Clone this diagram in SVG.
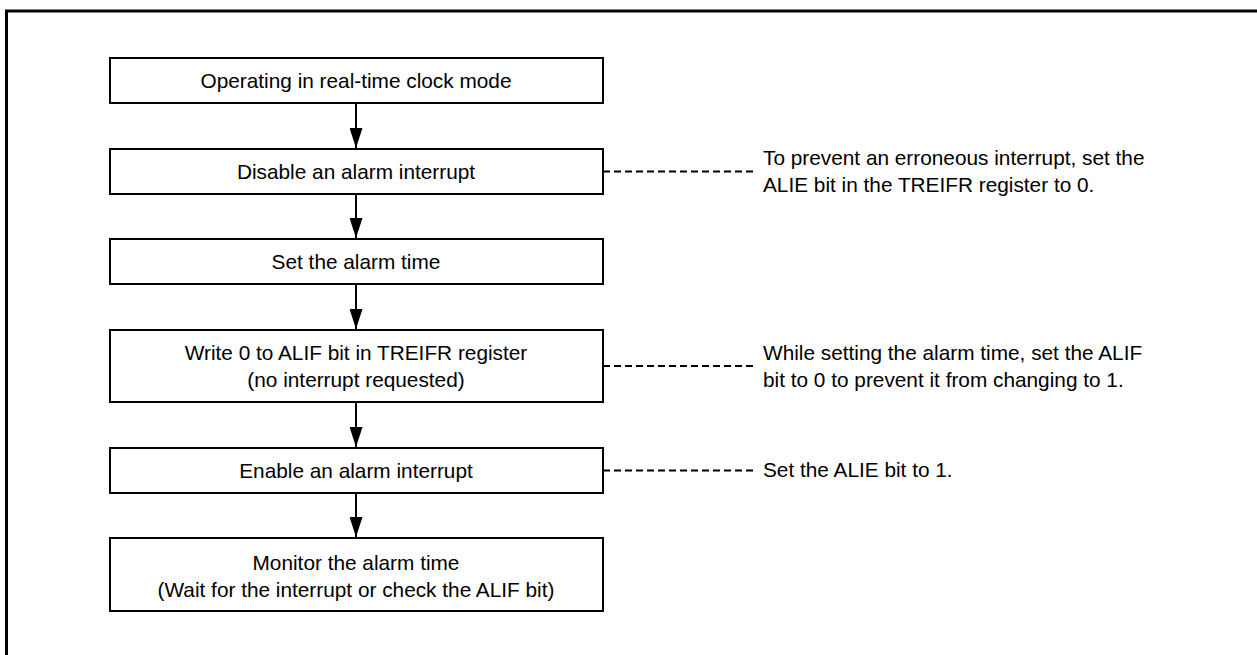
<svg xmlns="http://www.w3.org/2000/svg" width="1257" height="655" viewBox="0 0 1257 655">
<style>
.box{fill:#fff;stroke:#000;stroke-width:2}
.t{font-family:"Liberation Sans",Arial,sans-serif;font-size:20.8px;fill:#000;text-anchor:middle}
.a{font-family:"Liberation Sans",Arial,sans-serif;font-size:20.8px;fill:#000}
.c{stroke:#000;stroke-width:2;fill:none}
.d{stroke:#000;stroke-width:2.2;fill:none;stroke-dasharray:7 4}
</style>
<defs>
<marker id="ah" markerWidth="20" markerHeight="13" refX="20" refY="6.5" orient="auto" markerUnits="userSpaceOnUse" viewBox="0 0 20 13">
<path d="M0,0 L20,6.5 L0,13 Z" fill="#000"/>
</marker>
</defs>
<rect x="6.5" y="11" width="1260" height="660" fill="none" stroke="#000" stroke-width="3"/>
<g id="connectors">
<line class="c" x1="356" y1="103" x2="356" y2="148" marker-end="url(#ah)"/>
<line class="c" x1="356" y1="194" x2="356" y2="238" marker-end="url(#ah)"/>
<line class="c" x1="356" y1="284" x2="356" y2="329" marker-end="url(#ah)"/>
<line class="c" x1="356" y1="402" x2="356" y2="447" marker-end="url(#ah)"/>
<line class="c" x1="356" y1="493" x2="356" y2="537" marker-end="url(#ah)"/>
<line class="d" x1="603" y1="171.5" x2="756" y2="171.5"/>
<line class="d" x1="603" y1="366" x2="756" y2="366"/>
<line class="d" x1="603" y1="470.5" x2="756" y2="470.5"/>
</g>
<g id="n1"><rect class="box" x="110" y="58" width="493" height="45"/><text class="t" x="356" y="88">Operating in real-time clock mode</text></g>
<g id="n2"><rect class="box" x="110" y="149" width="493" height="45"/><text class="t" x="356" y="179">Disable an alarm interrupt</text></g>
<g id="n3"><rect class="box" x="110" y="239" width="493" height="45"/><text class="t" x="356" y="269">Set the alarm time</text></g>
<g id="n4"><rect class="box" x="110" y="330" width="493" height="72"/><text class="t" x="356" y="360">Write 0 to ALIF bit in TREIFR register</text><text class="t" x="356" y="387">(no interrupt requested)</text></g>
<g id="n5"><rect class="box" x="110" y="448" width="493" height="45"/><text class="t" x="356" y="478">Enable an alarm interrupt</text></g>
<g id="n6"><rect class="box" x="110" y="538" width="493" height="73"/><text class="t" x="356" y="570">Monitor the alarm time</text><text class="t" x="356" y="597">(Wait for the interrupt or check the ALIF bit)</text></g>
<g id="notes">
<text class="a" x="763" y="165">To prevent an erroneous interrupt, set the</text>
<text class="a" x="763" y="192">ALIE bit in the TREIFR register to 0.</text>
<text class="a" x="763" y="360">While setting the alarm time, set the ALIF</text>
<text class="a" x="763" y="387">bit to 0 to prevent it from changing to 1.</text>
<text class="a" x="763" y="477">Set the ALIE bit to 1.</text>
</g>
</svg>
